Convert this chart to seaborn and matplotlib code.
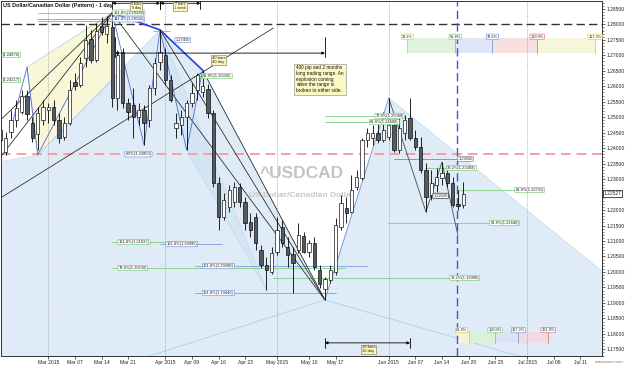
import numpy as np
import pandas as pd
import matplotlib
matplotlib.use("Agg")
import matplotlib.pyplot as plt
import matplotlib.ticker as mticker
from matplotlib.patches import Polygon, Rectangle
import seaborn as sns

sns.set_theme(style="white")
plt.rcParams["font.family"] = ["Liberation Sans", "DejaVu Sans"]

# ---------------- data ----------------
trade_dates = [d for d in pd.bdate_range("2015-02-17", "2015-06-19")
               if d != pd.Timestamp("2015-04-03")]

opens = [1.2459, 1.2388, 1.2452, 1.2491, 1.2517, 1.2568, 1.2481, 1.2446, 1.2491, 1.2523,
         1.2533, 1.2491, 1.2436, 1.2481, 1.2614, 1.2604, 1.2691, 1.2753, 1.2685, 1.2795,
         1.2769, 1.2791, 1.2562, 1.2711, 1.2546, 1.2539, 1.2501, 1.2523, 1.2491, 1.2594,
         1.2678, 1.2701, 1.2620, 1.2465, 1.2475, 1.2501, 1.2546, 1.2588, 1.2581, 1.2591,
         1.2514, 1.2287, 1.2178, 1.2210, 1.2226, 1.2274, 1.2226, 1.2161, 1.2178, 1.2071,
         1.2023, 1.2000, 1.2065, 1.2145, 1.2081, 1.2058, 1.2071, 1.2116, 1.2065, 1.2094,
         1.2006, 1.1945, 1.1974, 1.2000, 1.2145, 1.2207, 1.2194, 1.2274, 1.2304, 1.2426,
         1.2433, 1.2449, 1.2426, 1.2436, 1.2475, 1.2394, 1.2449, 1.2497, 1.2433, 1.2404,
         1.2329, 1.2249, 1.2281, 1.2304, 1.2320, 1.2287, 1.2220, 1.2216]
highs = [1.2484, 1.2452, 1.2523, 1.2556, 1.2588, 1.2588, 1.2501, 1.2533, 1.2556, 1.2546,
         1.2556, 1.2514, 1.2501, 1.2620, 1.2643, 1.2694, 1.2798, 1.2782, 1.2804, 1.2824,
         1.2827, 1.2837, 1.2717, 1.2723, 1.2562, 1.2594, 1.2546, 1.2539, 1.2604, 1.2691,
         1.2782, 1.2723, 1.2636, 1.2514, 1.2523, 1.2556, 1.2610, 1.2643, 1.2652, 1.2607,
         1.2523, 1.2307, 1.2255, 1.2281, 1.2291, 1.2287, 1.2242, 1.2191, 1.2191, 1.2087,
         1.2048, 1.2081, 1.2178, 1.2168, 1.2113, 1.2081, 1.2158, 1.2129, 1.2103, 1.2113,
         1.2023, 1.1984, 1.2023, 1.2174, 1.2249, 1.2242, 1.2313, 1.2329, 1.2433, 1.2465,
         1.2475, 1.2484, 1.2517, 1.2562, 1.2481, 1.2497, 1.2507, 1.2562, 1.2459, 1.2436,
         1.2352, 1.2329, 1.2336, 1.2355, 1.2346, 1.2307, 1.2265, 1.2291]
lows = [1.2384, 1.2378, 1.2433, 1.2468, 1.2510, 1.2491, 1.2420, 1.2394, 1.2475, 1.2481,
        1.2475, 1.2417, 1.2426, 1.2475, 1.2588, 1.2598, 1.2662, 1.2675, 1.2678, 1.2765,
        1.2740, 1.2533, 1.2523, 1.2530, 1.2491, 1.2433, 1.2475, 1.2410, 1.2468, 1.2572,
        1.2652, 1.2604, 1.2549, 1.2433, 1.2442, 1.2394, 1.2533, 1.2556, 1.2565, 1.2497,
        1.2274, 1.2136, 1.2168, 1.2194, 1.2210, 1.2210, 1.2136, 1.2113, 1.2071, 1.2013,
        1.1942, 1.1993, 1.2055, 1.2081, 1.2016, 1.1932, 1.2061, 1.2061, 1.2048, 1.2006,
        1.1948, 1.1910, 1.1964, 1.1990, 1.2136, 1.2158, 1.2191, 1.2265, 1.2297, 1.2404,
        1.2410, 1.2417, 1.2420, 1.2426, 1.2388, 1.2384, 1.2426, 1.2426, 1.2394, 1.2320,
        1.2194, 1.2233, 1.2258, 1.2281, 1.2274, 1.2210, 1.2200, 1.2207]
closes = [1.2426, 1.2433, 1.2491, 1.2530, 1.2568, 1.2510, 1.2433, 1.2514, 1.2533, 1.2533,
          1.2491, 1.2433, 1.2481, 1.2588, 1.2601, 1.2675, 1.2749, 1.2685, 1.2778, 1.2775,
          1.2795, 1.2562, 1.2701, 1.2546, 1.2517, 1.2501, 1.2523, 1.2481, 1.2594, 1.2675,
          1.2711, 1.2620, 1.2556, 1.2481, 1.2501, 1.2546, 1.2578, 1.2636, 1.2601, 1.2514,
          1.2287, 1.2178, 1.2233, 1.2265, 1.2274, 1.2226, 1.2158, 1.2136, 1.2094, 1.2023,
          1.2006, 1.2061, 1.2136, 1.2094, 1.2055, 1.2029, 1.2119, 1.2065, 1.2094, 1.2016,
          1.1961, 1.1977, 1.2006, 1.2152, 1.2223, 1.2191, 1.2265, 1.2307, 1.2426, 1.2449,
          1.2449, 1.2426, 1.2459, 1.2475, 1.2394, 1.2465, 1.2491, 1.2433, 1.2404, 1.2329,
          1.2242, 1.2287, 1.2307, 1.2320, 1.2287, 1.2216, 1.2213, 1.22527]
last_price = 1.22527

tick_dates = ["2015-03-02", "2015-03-09", "2015-03-16", "2015-03-23", "2015-04-01",
              "2015-04-09", "2015-04-16", "2015-04-23", "2015-05-01", "2015-05-11",
              "2015-05-18", "2015-06-01", "2015-06-08", "2015-06-15", "2015-06-20",
              "2015-06-25", "2015-07-01", "2015-07-06", "2015-07-11"]
tick_labels = ["Mar 2015", "Mar 07", "Mar 14", "Mar 21", "Apr 2015", "Apr 09", "Apr 16",
               "Apr 23", "May 2015", "May 10", "May 17", "Jun 2015", "Jun 07", "Jun 14",
               "Jun 20", "Jun 25", "Jul 2015", "Jul 06", "Jul 11"]
month_starts = ["2015-03-02", "2015-04-01", "2015-05-01", "2015-06-01", "2015-07-01"]

black_level = 1.2800
red_level = 1.2380

# harmonic pattern pivots (bar index, price)
left_idx = [2, 5, 7, 21]
left_px = [1.2465, 1.2662, 1.2378, 1.2837]
mid_idx = [21, 27, 30, 35, 38]
mid_px = [1.2837, 1.2410, 1.2782, 1.2394, 1.2652]
bold_idx = [21, 30, 38]
bold_px = [1.2837, 1.2782, 1.2652]
june_idx = [61, 73, 80, 83, 86]
june_px = [1.1910, 1.2562, 1.2194, 1.2355, 1.2119]
fan_idx = [21, 30, 38]
fan_px = [1.2837, 1.2782, 1.2652]
low_idx, low_px = 61, 1.1910

# fibonacci level lines: start, end, price, kind
lvl_start = [7, 7, 7, 28.7, 36, 21, 30, 21, 36.6, 36.6, 51.3, 72.9, 86.1, 61, 61, 79.9, 73.9, 80.2]
lvl_end = [21, 21, 21, 31.9, 38.1, 31.2, 41.7, 64.8, 69, 63, 84.6, 92.1, 96.8, 70.5, 69.5, 84.0, 86.1, 81.4]
lvl_price = [1.2837, 1.2817, 1.2810, 1.2778, 1.2633, 1.2097, 1.2090, 1.2013, 1.2019, 1.1932,
             1.1981, 1.2158, 1.2265, 1.2504, 1.2484, 1.2336, 1.2365, 1.2246]
lvl_kind = ["g", "b", "b", "g", "g", "g", "b", "g", "b", "b", "g", "g", "g", "g", "g", "g", "k", "k"]

tag_text = ["161.8%(1.28328)", "141.4%(1.28116)", "1.27450", "61.8%(1.26330)", "0.0%(1.23800)",
            "161.8%(1.21037)", "161.8%(1.20995)", "78.6%(1.20230)", "161.8%(1.20288)",
            "161.8%(1.19440)", "38.2%(1.19908)", "61.8%(1.21640)", "61.8%(1.22711)",
            "78.6%(1.25080)", "61.8%(1.24600)", "38.2%(1.23389)", "1.23560", "1.22520",
            "(1.24876)", "(1.24217)"]
tag_idx = [21.2, 21.2, 32.9, 38.1, 23.5, 22.2, 31.2, 22.2, 38.1, 38.1, 84.6, 92.1, 96.8,
           70.5, 69.5, 84.0, 86.1, 81.4, 0.4, 0.4]
tag_price = [1.2838, 1.2816, 1.2749, 1.2633, 1.2380, 1.2097, 1.2090, 1.2013, 1.2019, 1.1932,
             1.1981, 1.2158, 1.2265, 1.2504, 1.2484, 1.2336, 1.2365, 1.2246, 1.2701, 1.2620]
tag_kind = ["g", "b", "b", "g", "b", "g", "b", "g", "b", "b", "g", "g", "g", "g", "g", "g",
            "k", "d", "g", "g"]

time_top_edges = [76.5, 85.5, 92.5, 100.9, 111.8]
time_top_labels = ["38.2%", "61.8%", "78.6%", "100.0%", "127.2%"]
time_bot_edges = [85.85, 88.0, 93.0, 97.4, 103.0]
time_bot_labels = ["61.8%", "100.0%", "127.2%", "161.8%"]

# ---------------- helpers ----------------
def date_pos(d):
    d = pd.Timestamp(d)
    last = trade_dates[-1]
    if d <= last:
        return trade_dates.index(d)
    return len(trade_dates) - 1 + (d - last).days

COL = {"g": "#7fcf7f", "b": "#7c9de0", "k": "#8a8a8a", "d": "#333333",
       "y": "#d9cf45", "r": "#e07878"}
FILL_BLUE = "#c5dcf0"

fig = plt.figure(figsize=(6.25, 3.66), dpi=100)
ax = fig.add_axes([1 / 625, 10 / 366, 601 / 625, 355 / 366])
ax.set_xlim(0.1, 113.1)
ax.set_ylim(1.17286, 1.28753)
ax.set_facecolor("white")

# ---- shaded pattern areas ----
def poly(pts, fc, alpha, z=0.5):
    ax.add_patch(Polygon(pts, closed=True, fc=fc, ec="#9cc5ea", lw=0.5, alpha=alpha, zorder=z))

poly([(left_idx[1], left_px[1]), (21, 1.2837), (21, 1.2617), (left_idx[2], left_px[2])],
     "#f7f5cf", 0.8)
poly([(-2, 1.2350), (left_idx[2], left_px[2]), (mid_idx[2], mid_px[2]), (mid_idx[4], mid_px[4]),
      (low_idx, low_px), (22.8, 1.170), (-2, 1.170)], FILL_BLUE, 0.55)
poly([(mid_idx[2], mid_px[2]), (mid_idx[3], mid_px[3]), (50, 1.1942)], FILL_BLUE, 0.4)
poly([(22.8, 1.170), (low_idx, low_px), (103.2, 1.170)], FILL_BLUE, 0.55)
poly([(low_idx, low_px), (june_idx[1], june_px[1]), (114, 1.1990), (114, 1.170), (103.2, 1.170)],
     FILL_BLUE, 0.55)

# ---- time zones ----
top_cols = ["#dff3df", "#dfe6f7", "#f7e0e0", "#f8f6da"]
edge_cols_top = ["y", "g", "b", "r", "y"]
for i in range(4):
    ax.add_patch(Rectangle((time_top_edges[i], 1.2707), time_top_edges[i + 1] - time_top_edges[i],
                           0.0049, fc=top_cols[i], ec="none", zorder=0.8))
for e, lab, k in zip(time_top_edges, time_top_labels, edge_cols_top):
    ax.plot([e, e], [1.2707, 1.2759], color=COL[k], lw=0.6, zorder=1)
    ax.text(e, 1.2760, lab, fontsize=2.8, ha="center", va="center", zorder=6,
            bbox=dict(boxstyle="round,pad=0.15", fc="white", ec=COL[k], lw=0.5))
bot_cols = ["#f6f5d6", "#d9f0d9", "#dbe2f5", "#f1dbe3"]
edge_cols_bot = ["y", "g", "b", "r"]
for i in range(4):
    ax.add_patch(Rectangle((time_bot_edges[i], 1.1772), time_bot_edges[i + 1] - time_bot_edges[i],
                           0.0034, fc=bot_cols[i], ec="none", zorder=0.9))
for e, lab, k in zip(time_bot_edges[1:], time_bot_labels, edge_cols_bot):
    ax.plot([e, e], [1.1772, 1.1810], color=COL[k], lw=0.6, zorder=1)
    ax.text(e - (1.3 if lab == "61.8%" else 0), 1.1812, lab, fontsize=2.8, ha="center",
            va="center", zorder=6,
            bbox=dict(boxstyle="round,pad=0.15", fc="white", ec=COL[k], lw=0.5))

# ---- reference lines ----
for m in month_starts:
    ax.axvline(date_pos(m), color="#9a9a9a", lw=0.6, ls=(0, (1, 1.5)), zorder=1)
ax.axhline(black_level, color="#333333", lw=1.0, ls=(0, (6, 3)), zorder=1.2)
ax.axhline(red_level, color="#f2a2a2", lw=1.4, ls=(0, (5, 3)), zorder=1.2)
ax.axvline(85.85, color="#3f52ea", lw=1.0, ls=(0, (6, 3)), zorder=2.6)

# ---- fib level lines ----
for s, e, p, k in zip(lvl_start, lvl_end, lvl_price, lvl_kind):
    ax.plot([s, e], [p, p], color=COL[k], lw=0.6, zorder=1.5)

# ---- black trend / fan lines ----
for fi, fp in zip(fan_idx, fan_px):
    ax.plot([fi, low_idx], [fp, low_px], color="#222222", lw=0.55, zorder=2.2)
ax.plot([0, 21], [1.2491, 1.2837], color="#222222", lw=0.55, zorder=2.2)
ax.plot([0, 21], [1.2371, 1.2837], color="#222222", lw=0.55, zorder=2.2)
ax.plot([0, 51.3], [1.2239, 1.2788], color="#222222", lw=0.55, zorder=2.2)

# ---- pattern zigzags (seaborn) ----
sns.lineplot(x=left_idx, y=left_px, ax=ax, color="#4f6fd0", lw=0.6, sort=False,
             estimator=None, legend=False, zorder=2.3)
sns.lineplot(x=mid_idx, y=mid_px, ax=ax, color="#4f6fd0", lw=0.6, sort=False,
             estimator=None, legend=False, zorder=2.3)
sns.lineplot(x=bold_idx, y=bold_px, ax=ax, color="#2443e6", lw=1.2, sort=False,
             estimator=None, legend=False, zorder=2.4)
sns.lineplot(x=june_idx[1:], y=june_px[1:], ax=ax, color="#444b55", lw=0.6, sort=False,
             estimator=None, legend=False, zorder=2.3)
sns.lineplot(x=june_idx[:2], y=june_px[:2], ax=ax, color="#6d9bd8", lw=0.6, sort=False,
             estimator=None, legend=False, zorder=2.3)

# ---- candles ----
x = np.arange(len(trade_dates))
o, h, l, c = map(np.array, (opens, highs, lows, closes))
up = c >= o
ax.vlines(x, l, h, color="black", lw=0.6, zorder=3)
body = np.maximum(np.abs(c - o), 0.00025)
ax.bar(x, body, bottom=np.minimum(o, c), width=0.62,
       color=np.where(up, "white", "#545c63"), edgecolor="black", lw=0.45, zorder=3.5)

# ---- level tags ----
for s, i, p, k in zip(tag_text, tag_idx, tag_price, tag_kind):
    ax.text(i, p, s, fontsize=2.9, ha="left", va="center", color="#222222", zorder=6,
            bbox=dict(boxstyle="round,pad=0.15", fc="white", ec=COL[k], lw=0.5))

# ---- measurement arrows ----
def measure(x0, x1, yv, label, lx, ly, tick_lo, tick_hi, fs=3.0):
    ax.annotate("", xy=(x1, yv), xytext=(x0, yv),
                arrowprops=dict(arrowstyle="<|-|>", lw=0.6, color="black", mutation_scale=4,
                                shrinkA=0, shrinkB=0), zorder=5)
    for xx in (x0, x1):
        ax.plot([xx, xx], [tick_lo, tick_hi], color="black", lw=0.6, zorder=5)
    ax.text(lx, ly, label, fontsize=fs, ha="center", va="center", linespacing=1.0, zorder=6.5,
            bbox=dict(boxstyle="square,pad=0.2", fc="#fbf6bf", ec="#8a8a7a", lw=0.5))

measure(21, 30, 1.2868, "9 bars\n9 day", 25.5, 1.2858, 1.2850, 1.2880, fs=2.7)
measure(30, 37.6, 1.2868, "7 bars\n1 week", 33.8, 1.2858, 1.2850, 1.2880, fs=2.7)
measure(21.6, 61, 1.2707, "40 bars\n40 day", 41, 1.2684, 1.2694, 1.2759)
measure(61, 77, 1.1771, "16 bars\n16 day", 69.2, 1.1750, 1.1756, 1.1787)

# ---- note & watermark ----
ax.text(55.6, 1.2667,
        "400 pip and 2 months\nlong trading range. An\nexplosion coming\nwhen the range is\nbroken to either side.",
        fontsize=3.4, ha="left", va="top", linespacing=1.15, color="#111111", zorder=6,
        bbox=dict(boxstyle="square,pad=0.4", fc="#fcf8c2", ec="#9a9a9a", lw=0.5))
ax.text(56.6, 1.2317, "^USDCAD", fontsize=12.5, fontweight="bold", color="#c4c4c4",
        ha="center", va="center", zorder=1.1)
ax.text(56.6, 1.2247, "US Dollar/Canadian Dollar", fontsize=6, fontweight="bold",
        color="#c8c8c8", ha="center", va="center", zorder=1.1)

# ---- axes ----
ax.set_xticks([date_pos(d) for d in tick_dates])
ax.set_xticklabels(tick_labels)
ax.yaxis.tick_right()
yt = np.round(np.arange(1.175, 1.2851, 0.005), 3)
ax.set_yticks(yt)
ax.set_yticklabels(["" if abs(v - 1.225) < 1e-9 else f"{v:.5f}" for v in yt])
ax.yaxis.set_minor_locator(mticker.MultipleLocator(0.001))
ax.tick_params(axis="x", length=2, width=0.5, pad=1, labelsize=3.6, colors="#222222", bottom=True)
ax.tick_params(axis="y", which="major", length=2.5, width=0.5, pad=1, labelsize=3.6,
               colors="#222222", right=True, left=False)
ax.tick_params(axis="y", which="minor", length=1.2, width=0.4, right=True, left=False)
for sp in ax.spines.values():
    sp.set_color("#333333")
    sp.set_linewidth(0.7)
ax.grid(False)

ax.annotate(f"{last_price:.5f}", xy=(1, last_price), xycoords=("axes fraction", "data"),
            xytext=(1.2, 0), textcoords="offset points", fontsize=3.6, va="center", ha="left",
            zorder=7, annotation_clip=False,
            bbox=dict(boxstyle="square,pad=0.15", fc="white", ec="black", lw=0.5))

fig.text(3 / 625, 1 - 6 / 366, "US Dollar/Canadian Dollar (Pattern) - 1 day", fontsize=3.9,
         fontweight="bold", ha="left", va="center", color="#111111")
fig.text(0.998, 0.006, "motivewave.com", fontsize=2.8, ha="right", va="bottom", color="#777777")

fig.savefig("out.png", dpi=100)
